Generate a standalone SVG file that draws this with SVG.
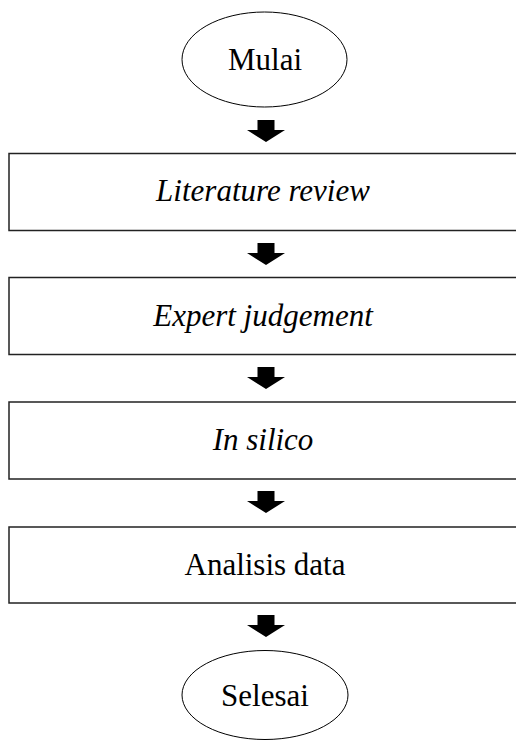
<svg xmlns="http://www.w3.org/2000/svg" width="516" height="740" viewBox="0 0 516 740">
<style>
.box{fill:#fff;stroke:#222;stroke-width:1.5}
.ell{fill:#fff;stroke:#000;stroke-width:1}
.t{font-family:"Liberation Serif","Times New Roman",serif;font-size:31px;fill:#000;text-anchor:middle}
.i{font-style:italic}
.arr{fill:#000}
</style>
<defs>
<path id="blk" d="M-8.5,0 H8.5 V10 H19 L0,22 L-19,10 H-8.5 Z"/>
</defs>
<rect width="516" height="740" fill="#fff"/>
<g id="mulai"><ellipse class="ell" cx="264.5" cy="59.5" rx="82.5" ry="47.5"/><text class="t" x="265" y="70">Mulai</text></g>
<g id="literature"><rect class="box" x="9" y="153.5" width="512" height="77"/><text class="t i" x="263" y="201">Literature review</text></g>
<g id="expert"><rect class="box" x="9" y="277.5" width="512" height="77"/><text class="t i" x="263" y="326">Expert judgement</text></g>
<g id="insilico"><rect class="box" x="9" y="402" width="512" height="77"/><text class="t i" x="263" y="450">In silico</text></g>
<g id="analisis"><rect class="box" x="9" y="527" width="512" height="76"/><text class="t" x="265" y="575">Analisis data</text></g>
<g id="selesai"><ellipse class="ell" cx="265" cy="695" rx="83" ry="44.5"/><text class="t" x="265" y="706">Selesai</text></g>
<g id="connectors">
<use href="#blk" class="arr" x="266" y="120"/>
<use href="#blk" class="arr" x="266" y="243"/>
<use href="#blk" class="arr" x="266" y="367"/>
<use href="#blk" class="arr" x="266" y="491"/>
<use href="#blk" class="arr" x="266" y="615"/>
</g>
</svg>
